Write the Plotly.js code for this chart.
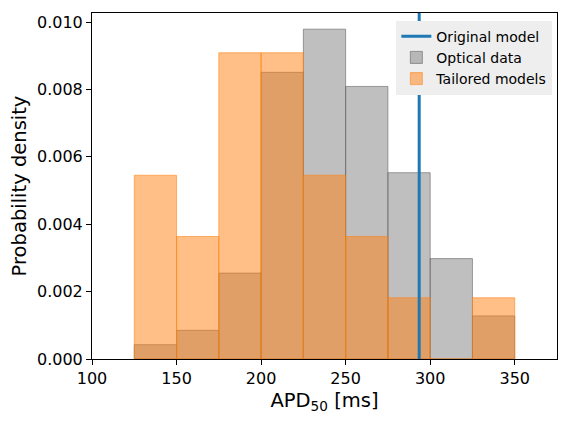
<!DOCTYPE html>
<html>
<head>
<meta charset="utf-8">
<script src="https://cdn.plot.ly/plotly-3.0.1.min.js"></script>
<style>
  html, body { margin: 0; padding: 0; background: white; }
  #plot { width: 570px; height: 425px; }
</style>
</head>
<body>
<div id="plot"></div>
<script>
// histogram bin edges (ms), width 25
const binEdges = [125, 150, 175, 200, 225, 250, 275, 300, 325, 350];
// probability density per bin
const opticalDensity = [0.000426, 0.000851, 0.00255, 0.00851, 0.00979, 0.00809, 0.00553, 0.00298, 0.00128];
const tailoredDensity = [0.005455, 0.003636, 0.00909, 0.00909, 0.005455, 0.003636, 0.001818, 0, 0.001818];
// APD50 of the original model
const originalModelApd = 293.5;

const xTicks = [100, 150, 200, 250, 300, 350];
const yTicks = [0, 0.002, 0.004, 0.006, 0.008, 0.010];
const xRange = [100, 375];
const yRange = [0, 0.01027];

const binCenters = binEdges.slice(0, -1).map(function (e, i) { return (e + binEdges[i + 1]) / 2; });
const binWidths = binEdges.slice(0, -1).map(function (e, i) { return binEdges[i + 1] - e; });

const optical = {
	type: 'bar',
	name: 'Optical data',
	x: binCenters,
	y: opticalDensity,
	width: binWidths,
	marker: {
		color: 'rgba(128,128,128,0.5)',
		line: {color: 'rgba(90,90,90,0.55)', width: 1}
	},
	legendrank: 2,
	hoverinfo: 'x+y'
};

const tailored = {
	type: 'bar',
	name: 'Tailored models',
	x: binCenters,
	y: tailoredDensity,
	width: binWidths,
	marker: {
		color: 'rgba(255,127,14,0.5)',
		line: {color: 'rgba(255,127,14,0.55)', width: 1}
	},
	legendrank: 3,
	hoverinfo: 'x+y'
};

const original = {
	type: 'scatter',
	mode: 'lines',
	name: 'Original model',
	x: [originalModelApd, originalModelApd],
	y: yRange,
	line: {color: '#1f77b4', width: 3},
	legendrank: 1,
	hoverinfo: 'x'
};

const axisCommon = {
	showgrid: false,
	zeroline: false,
	showline: true,
	linecolor: 'black',
	linewidth: 1,
	mirror: true,
	ticks: 'outside',
	ticklen: 5,
	tickwidth: 1,
	tickcolor: 'black',
	tickfont: {size: 16, color: 'black'}
};

const layout = {
	width: 570,
	height: 425,
	margin: {l: 92, r: 13, t: 13, b: 66},
	paper_bgcolor: 'white',
	plot_bgcolor: 'white',
	font: {family: 'DejaVu Sans', color: 'black'},
	barmode: 'overlay',
	showlegend: true,
	legend: {
		x: 0.99, y: 0.978, xanchor: 'right', yanchor: 'top',
		bgcolor: '#eeeeee',
		borderwidth: 0,
		font: {size: 14, color: 'black'},
		tracegroupgap: 0
	},
	xaxis: Object.assign({}, axisCommon, {
		range: xRange,
		tickvals: xTicks,
		title: {text: 'APD<sub>50</sub> [ms]', font: {size: 19.5}, standoff: 6}
	}),
	yaxis: Object.assign({}, axisCommon, {
		range: yRange,
		tickvals: yTicks,
		tickformat: '.3f',
		title: {text: 'Probability density', font: {size: 19.5}, standoff: 5}
	})
};

Plotly.newPlot('plot', [optical, tailored, original], layout, {displayModeBar: false, staticPlot: true});
</script>
</body>
</html>
